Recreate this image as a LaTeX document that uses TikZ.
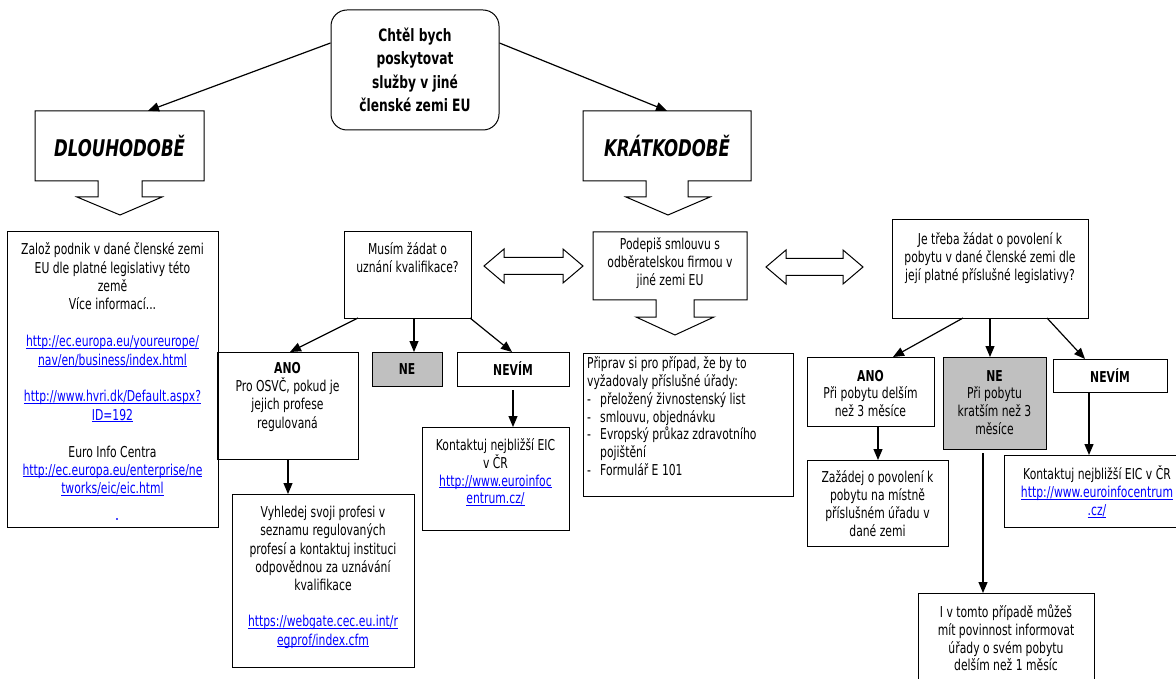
\documentclass[tikz,border=0pt]{standalone}
\usepackage{fontspec}
\setmainfont{DejaVu Sans}[FakeStretch=0.72]
\usetikzlibrary{arrows.meta,calc}
\definecolor{linkblue}{RGB}{0,0,255}
\definecolor{boxgray}{RGB}{192,192,192}
\newcommand{\lk}[1]{\textcolor{linkblue}{\setbox0\hbox{#1}\rlap{\rule[-1.6pt]{\wd0}{0.7pt}}\box0}}
\newcommand{\fst}{\rule{0pt}{13pt}}
\newcommand{\dsh}{\makebox[13pt][l]{-}}
\begin{document}
\begin{tikzpicture}[x=1pt,y=-1pt,
  box/.style={draw=black, line width=1pt, inner sep=0pt, outer sep=0pt, anchor=north west},
  txt/.style={inner sep=0pt, anchor=north, align=center, font=\fontsize{15}{18}\selectfont},
  bld/.style={font=\fontsize{15}{18}\selectfont\bfseries},
  conn/.style={line width=1.2pt, -{Triangle[length=11pt,width=9pt]}},
  outl/.style={draw=black, line width=1pt, fill=white},
]
\useasboundingbox (0,0) rectangle (1176,679);
\clip (0,0) rectangle (1176,679);

% title
\node[draw=black, line width=1pt, rounded corners=16pt, minimum width=168pt, minimum height=120pt,
  inner sep=0pt, align=center, font=\fontsize{17}{23.5}\selectfont\bfseries] (title) at (415,70)
  {Chtěl bych\\poskytovat\\služby v jiné\\členské zemi EU};

% DLOUHODOBE callout
\path[outl] (35,111) -- (204,111) -- (204,181) -- (142,181) -- (142,197) -- (162,197) -- (120,215)
  -- (77,197) -- (98,197) -- (98,181) -- (35,181) -- cycle;
\node[inner sep=0pt, minimum width=169pt, minimum height=70pt,
  font=\fontsize{23}{23}\selectfont\bfseries\itshape] (dl) at (119.5,146) {DLOUHODOBĚ};

% KRATKODOBE callout
\path[outl] (583,111) -- (751,111) -- (751,181) -- (688,181) -- (688,197) -- (710,197) -- (668,215)
  -- (626,197) -- (646,197) -- (646,181) -- (583,181) -- cycle;
\node[inner sep=0pt, minimum width=168pt, minimum height=70pt,
  font=\fontsize{23}{23}\selectfont\bfseries\itshape] (kr) at (667,146) {KRÁTKODOBĚ};

\draw[conn] ($(title.west)+(0,-27)$) -- ($(dl.north)+(28.5,0)$);
\draw[conn] ($(title.east)+(0,-27)$) -- (kr.north);

% left big box
\node[box, minimum width=211pt, minimum height=295pt] (zaloz) at (7,232) {};
\node[txt, font=\fontsize{15}{18.4}\selectfont] at ($(zaloz.north)+(0,9.5)$)
  {\fst Založ podnik v dané členské zemi\\EU dle platné legislativy této\\země\\Více informací...\\[18.4pt]
   \lk{http://ec.europa.eu/youreurope/}\\\lk{nav/en/business/index.html}\\[18.4pt]
   \lk{http://www.hvri.dk/Default.aspx?}\\\lk{ID=192}\\[18.4pt]
   Euro Info Centra\\\lk{http://ec.europa.eu/enterprise/ne}\\\lk{tworks/eic/eic.html}};
\fill[linkblue!70] (115.5,517.5) rectangle (117.5,519.5);

% Musim
\node[box, minimum width=127pt, minimum height=86pt] (musim) at (344,232) {};
\node[txt] at ($(musim.north)+(0,9.5)$) {\fst Musím žádat o\\uznání kvalifikace?};

% Podepis callout
\path[outl] (593,232) -- (747,232) -- (747,300) -- (694,300) -- (694,317) -- (714,317) -- (675,335)
  -- (636,317) -- (656,317) -- (656,300) -- (593,300) -- cycle;
\node[inner sep=0pt, minimum width=154pt, minimum height=68pt] (pod) at (670,266) {};
\node[txt] at ($(pod.north)+(0,4.5)$) {\fst Podepiš smlouvu s\\odběratelskou firmou v\\jiné zemi EU};

% double arrows
\path[outl] (484,266) -- (504,249) -- (504,257.5) -- (563,257.5) -- (563,249) -- (583,266)
  -- (563,283) -- (563,274.5) -- (504,274.5) -- (504,283) -- cycle;
\path[outl] (766,267) -- (786,250) -- (786,258.5) -- (843,258.5) -- (843,250) -- (863,267)
  -- (843,284) -- (843,275.5) -- (786,275.5) -- (786,284) -- cycle;

% Priprav
\node[box, minimum width=210pt, minimum height=143pt] (prip) at (583,353) {};
\node[txt, anchor=north west, align=left, font=\fontsize{15}{17.8}\selectfont] at ($(prip.north west)+(4,2.5)$)
  {\fst Připrav si pro případ, že by to\\vyžadovaly příslušné úřady:\\\dsh přeložený živnostenský list\\
   \dsh smlouvu, objednávku\\\dsh Evropský průkaz zdravotního\\\hspace*{13pt}pojištění\\\dsh Formulář E 101};

% Je treba
\node[box, minimum width=196pt, minimum height=98pt] (jet) at (892,220) {};
\node[txt] at ($(jet.north)+(0,11.5)$)
  {\fst Je třeba žádat o povolení k\\pobytu v dané členské zemi dle\\její platné příslušné legislativy?};

% right ANO / NE / NEVIM
\node[box, minimum width=127pt, minimum height=69pt] (rano) at (807,357) {};
\node[txt, font=\fontsize{15}{17.5}\selectfont] at ($(rano.north)+(0,10.8)$)
  {\fst\textbf{ANO}\\Při pobytu delším\\než 3 měsíce};
\node[box, fill=boxgray, minimum width=103pt, minimum height=92pt] (rne) at (943,357) {};
\node[txt, font=\fontsize{15}{17.7}\selectfont] at ($(rne.north)+(0,10.8)$)
  {\fst\textbf{NE}\\Při pobytu\\kratším než 3\\měsíce};
\node[box, bld, minimum width=114pt, minimum height=33pt] (rnev) at (1053,359) {NEVÍM};

% right Kontaktuj
\node[box, minimum width=190pt, minimum height=72pt] (rkon) at (1004,455) {};
\node[txt] at ($(rkon.north west)+(93,10.5)$)
  {\fst Kontaktuj nejbližší EIC v ČR\\\lk{http://www.euroinfocentrum}\\\lk{.cz/}};

% Zazadej
\node[box, minimum width=141pt, minimum height=86pt] (zaz) at (807,460) {};
\node[txt, font=\fontsize{15}{18}\selectfont] at ($(zaz.north)+(0,9.5)$)
  {\fst Zažádej o povolení k\\pobytu na místně\\příslušném úřadu v\\dané zemi};

% I v tomto
\node[box, minimum width=176pt, minimum height=110pt] (ivt) at (918,593) {};
\node[txt, font=\fontsize{15}{17.7}\selectfont] at ($(ivt.north)+(0,11.5)$)
  {\fst I v tomto případě můžeš\\mít povinnost informovat\\úřady o svém pobytu\\delším než 1 měsíc};

% left ANO / NE / NEVIM
\node[box, minimum width=141pt, minimum height=107pt] (lano) at (217,352) {};
\node[txt, font=\fontsize{15}{18.3}\selectfont] at ($(lano.north)+(0,8)$)
  {\fst\textbf{ANO}\\Pro OSVČ, pokud je\\jejich profese\\regulovaná};
\node[box, bld, fill=boxgray, minimum width=70pt, minimum height=34pt] (lne) at (372,352) {NE};
\node[box, bld, minimum width=112pt, minimum height=34pt] (lnev) at (457,352) {NEVÍM};

% left Kontaktuj
\node[box, minimum width=147pt, minimum height=103pt] (lkon) at (422,427) {};
\node[txt, font=\fontsize{15}{17.7}\selectfont] at ($(lkon.north)+(0,10.5)$)
  {\fst Kontaktuj nejbližší EIC\\v ČR\\\lk{http://www.euroinfoc}\\\lk{entrum.cz/}};

% Vyhledej
\node[box, minimum width=182pt, minimum height=173pt] (vyh) at (232,494) {};
\node[txt, font=\fontsize{15}{18.2}\selectfont] at ($(vyh.north)+(0,10.5)$)
  {\fst Vyhledej svoji profesi v\\seznamu regulovaných\\profesí a kontaktuj instituci\\odpovědnou za uznávání\\kvalifikace\\[18.2pt]
   \lk{https://webgate.cec.eu.int/r}\\\lk{egprof/index.cfm}};

% connectors
\draw[conn] ($(musim.south west)+(14,0)$) -- ($(lano.north west)+(73,0)$);
\draw[conn] ($(musim.south west)+(70,0)$) -- ($(lne.north west)+(42,0)$);
\draw[conn] ($(musim.south east)+(-1,0)$) -- ($(lnev.north west)+(55,0)$);
\draw[conn, shorten <=4pt] ($(lnev.south west)+(56,0)$) -- ($(lkon.north west)+(91,0)$);
\draw[conn] ($(lano.south west)+(71,0)$) -- ($(vyh.north west)+(56,0)$);
\draw[conn] ($(jet.south west)+(71,0)$) -- ($(rano.north west)+(86,0)$);
\draw[conn] ($(jet.south west)+(98,0)$) -- ($(rne.north west)+(47,0)$);
\draw[conn] ($(jet.south west)+(155,0)$) -- ($(rnev.north west)+(32,0)$);
\draw[conn] ($(rano.south west)+(71,0)$) -- ($(zaz.north west)+(71,0)$);
\draw[conn] ($(rnev.south west)+(36,0)$) -- ($(rkon.north west)+(85,0)$);
\draw[conn, shorten <=4pt] ($(rne.south west)+(40,0)$) -- ($(ivt.north west)+(65,0)$);
\end{tikzpicture}
\end{document}
